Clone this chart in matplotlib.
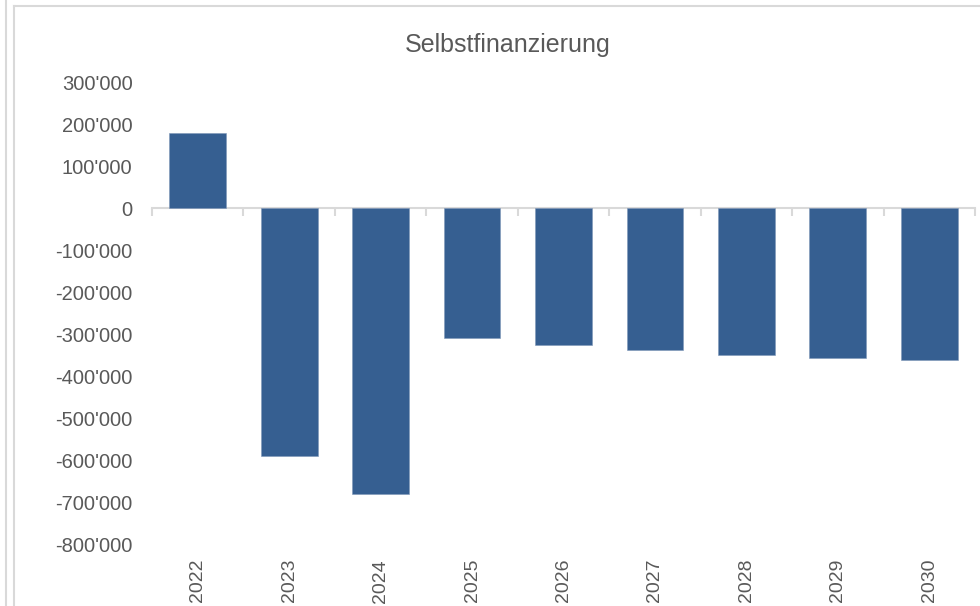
import matplotlib
matplotlib.use("Agg")
from matplotlib import pyplot as plt
from matplotlib.lines import Line2D
from matplotlib.ticker import FuncFormatter, MultipleLocator
import numpy as np

years = ['2022', '2023', '2024', '2025', '2026', '2027', '2028', '2029', '2030']
selbstfinanzierung = [178000, -589000, -679000, -309000, -325000, -337000, -349000, -355000, -361000]

bar_color = '#365F91'
text_color = '#595959'
grid_color = '#D9D9D9'

plt.rcParams['font.family'] = ['Liberation Sans', 'DejaVu Sans']


def fmt(v, pos):
    s = "{:,.0f}".format(abs(v)).replace(',', "'")
    return ('-' + s) if v < 0 else s


fig = plt.figure(figsize=(9.8, 6.06), dpi=100)
ax = fig.add_axes([152 / 980, 1 - 545 / 606, (975 - 152) / 980, (545 - 82) / 606])

x = np.arange(len(years))
ax.bar(x, selbstfinanzierung, width=0.62, color=bar_color, edgecolor='#7F97B8', linewidth=0.4, zorder=3)

ax.set_xlim(-0.5, len(years) - 0.5)
ax.set_ylim(-800000, 300000)
ax.yaxis.set_major_locator(MultipleLocator(100000))
ax.yaxis.set_major_formatter(FuncFormatter(fmt))
ax.tick_params(axis='y', length=0, pad=14, labelsize=14.5, labelcolor=text_color)

for side in ['top', 'right', 'left']:
    ax.spines[side].set_visible(False)
ax.spines['bottom'].set_position(('data', 0))
ax.spines['bottom'].set_color(grid_color)
ax.spines['bottom'].set_linewidth(1.5)
ax.set_xticks(np.arange(-0.5, len(years), 1.0))
ax.set_xticklabels([])
ax.tick_params(axis='x', length=6, width=1.5, color=grid_color, direction='out')

# year labels sit below the bottom of the value range
for i, y in enumerate(years):
    ax.annotate(y, (i, -800000), xytext=(0, -10), textcoords='offset points',
                rotation=90, ha='center', va='top', fontsize=14, color=text_color,
                annotation_clip=False)

fig.text(0.518, 1 - 45 / 606, 'Selbstfinanzierung', ha='center', va='center',
         fontsize=18, color=text_color)

fig.add_artist(Line2D([6 / 980, 6 / 980], [0, 1], color=grid_color, lw=1.5))
fig.add_artist(Line2D([14 / 980, 14 / 980], [0, 1 - 6 / 606], color=grid_color, lw=1.5))
fig.add_artist(Line2D([14 / 980, 1], [1 - 6 / 606, 1 - 6 / 606], color=grid_color, lw=1.5))

fig.savefig('out.png', dpi=100)
